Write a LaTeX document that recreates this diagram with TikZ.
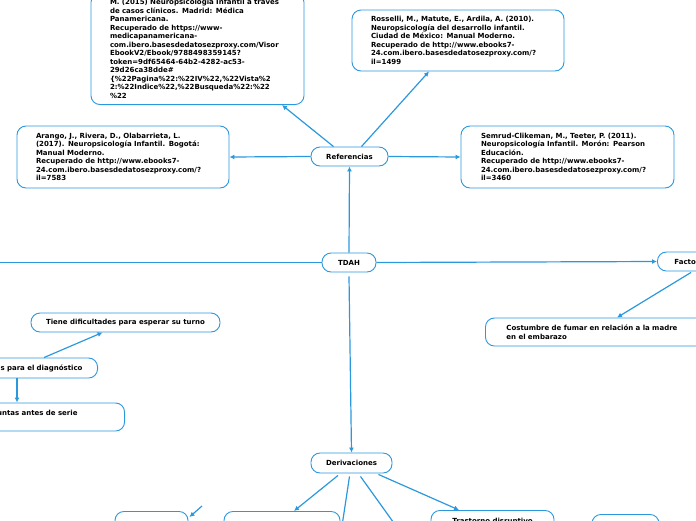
\documentclass[tikz,border=0pt]{standalone}
\usepackage{fontspec}
\setmainfont{DejaVu Sans}
\usetikzlibrary{arrows.meta,calc}
\definecolor{lb}{RGB}{43,152,222}
\begin{document}
\begin{tikzpicture}[x=1pt,y=-1pt,
  box/.style={draw=lb, line width=0.9pt, rounded corners=9pt, fill=white,
    font=\fontsize{7}{8.5}\selectfont\bfseries, align=left, inner ysep=3pt},
  conn/.style={draw=lb, line width=1.2pt},
  arr/.style={conn, -{Latex[length=5pt,width=5pt]}}]
\useasboundingbox (0,0) rectangle (696,520);
\clip (0,0) rectangle (696,520);

% reference boxes
\node[box, anchor=south, text width=175pt, inner xsep=19pt, inner ysep=6pt] (tl) at (197.5,105)
 {M. (2015) Neuropsicología Infantil a través\\ de casos clínicos. Madrid: Médica\\ Panamericana.\\ Recuperado de https://www-\\ medicapanamericana-\\ com.ibero.basesdedatosezproxy.com/Visor\\ EbookV2/Ebook/9788498359145?\\ token=9df65464-64b2-4282-ac53-\\ 29d26ca38dde\#\\ \{\%22Pagina\%22:\%22IV\%22,\%22Vista\%2\\ 2:\%22Indice\%22,\%22Busqueda\%22:\%22\\ \%22};
\node[box, text width=174pt, inner xsep=19pt, minimum height=61pt] (ros) at (458,40.5)
 {Rosselli, M., Matute, E., Ardila, A. (2010).\\ Neuropsicología del desarrollo infantil.\\ Ciudad de México: Manual Moderno.\\ Recuperado de http://www.ebooks7-\\ 24.com.ibero.basesdedatosezproxy.com/?\\ il=1499};
\node[box, text width=174pt, inner xsep=19pt, minimum height=62pt] (ara) at (123,157)
 {Arango, J., Rivera, D., Olabarrieta, L.\\ (2017). Neuropsicología Infantil. Bogotá:\\ Manual Moderno.\\ Recuperado de http://www.ebooks7-\\ 24.com.ibero.basesdedatosezproxy.com/?\\ il=7583};
\node[box, text width=173pt, inner xsep=20pt, minimum height=62pt] (sem) at (567.5,157)
 {Semrud-Clikeman, M., Teeter, P. (2011).\\ Neuropsicología Infantil. Morón: Pearson\\ Educación.\\ Recuperado de http://www.ebooks7-\\ 24.com.ibero.basesdedatosezproxy.com/?\\ il=3460};

% main nodes
\node[box, align=center, minimum width=77pt, minimum height=19pt] (ref) at (349.5,156.5) {Referencias};
\node[box, align=center, minimum width=54pt, minimum height=19pt] (tdah) at (349,262.5) {TDAH};
\node[box, anchor=west, text width=80pt, inner xsep=17pt, minimum height=19pt] (fac) at (657,261.5) {Factores};
\node[box, anchor=west, text width=182pt, inner xsep=21pt, minimum height=28pt] (cos) at (485,332)
 {Costumbre de fumar en relación a la madre\\ en el embarazo};
\node[box, align=center, minimum width=189pt, minimum height=19pt] (tie) at (125.5,322.5) {Tiene dificultades para esperar su turno};
\node[box, anchor=east, text width=150pt, align=right, inner xsep=15pt, minimum height=20pt] (dia) at (98,368) {s para el diagnóstico};
\node[box, anchor=east, text width=150pt, align=right, inner xsep=47pt, minimum height=28pt] (unt) at (125,417) {untas antes de serie\\ \mbox{}};
\node[box, align=center, minimum width=81pt, minimum height=20pt] (der) at (351.5,463) {Derivaciones};

% bottom boxes
\node[box, anchor=north, minimum width=73pt, minimum height=30pt] (b1) at (151.5,511) {};
\node[box, anchor=north, minimum width=116pt, minimum height=30pt] (b2) at (282,511) {};
\node[box, anchor=north, align=center, minimum width=123pt, minimum height=30pt, inner ysep=5pt] (b3) at (492.5,510) {Trastorno disruptivo\\ \mbox{}};
\node[box, anchor=north, minimum width=67pt, minimum height=30pt] (b4) at (625.5,514) {};

\coordinate (lft) at (-5,262.5);
\coordinate (d1) at (342,526);
\coordinate (d2) at (396,526);
\coordinate (b1src) at (202,506);

% connectors
\draw[arr] (tdah.north) -- (ref.south);
\draw[arr] ($(ref.north)+(-16,0)$) -- ($(tl.south)+(84.5,0)$);
\draw[arr] ($(ref.north)+(12,0)$) -- ($(ros.south)+(-29,0)$);
\draw[arr] (ref.west) -- (ara.east);
\draw[arr] (ref.east) -- (sem.west);
\draw[arr] (tdah.east) -- (fac.west);
\draw[conn] (tdah.west) -- (lft);
\draw[arr] ($(fac.south west)+(34,1)$) -- ($(cos.north west)+(132,0)$);
\draw[arr] ($(tdah.south)+(0,4)$) -- (der.north);
\draw[arr] ($(dia.north east)+(-54,0)$) -- ($(tie.south west)+(72,0)$);
\draw[arr] ($(dia.south east)+(-81,0)$) -- ($(unt.north east)+(-108,0)$);
\draw[arr] ($(der.south)+(-13.5,2)$) -- ($(b2.north)+(12,0)$);
\draw[conn] ($(der.south)+(-2,3)$) -- (d1);
\draw[conn] ($(der.south)+(9,3)$) -- (d2);
\draw[arr] ($(der.south east)+(-14,1)$) -- ($(b3.north)+(-33.5,0)$);
\draw[arr] (b1src) -- ($(b1.north east)+(1,6)$);
\end{tikzpicture}
\end{document}
